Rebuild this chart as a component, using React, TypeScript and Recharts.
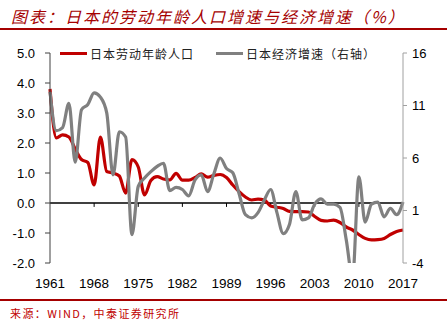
import { Line, LineChart, ReferenceLine, XAxis, YAxis } from "recharts";

const years = [
  "1961", "1962", "1963", "1964", "1965", "1966", "1967", "1968", "1969", "1970",
  "1971", "1972", "1973", "1974", "1975", "1976", "1977", "1978", "1979", "1980",
  "1981", "1982", "1983", "1984", "1985", "1986", "1987", "1988", "1989", "1990",
  "1991", "1992", "1993", "1994", "1995", "1996", "1997", "1998", "1999", "2000",
  "2001", "2002", "2003", "2004", "2005", "2006", "2007", "2008", "2009", "2010",
  "2011", "2012", "2013", "2014", "2015", "2016", "2017",
];

// 日本劳动年龄人口增速（左轴，%）
const laborGrowth = [
  3.8, 2.17, 2.27, 2.2, 1.8, 1.45, 1.35, 0.6, 2.2, 1.05,
  1.0, 0.9, 0.33, 1.45, 1.2, 0.27, 0.75, 0.88, 0.8, 0.77,
  0.99, 0.76, 0.76, 0.85, 0.97, 0.86, 0.92, 0.95, 0.85, 0.6,
  0.38, 0.2, 0.1, 0.13, 0.1, -0.1, -0.14, -0.18, -0.28, -0.29,
  -0.29, -0.3, -0.45, -0.58, -0.6, -0.57, -0.65, -0.8, -0.9, -1.05,
  -1.18, -1.23, -1.22, -1.18, -1.05, -0.95, -0.9,
];

// 日本经济增速（右轴，%）
const gdpGrowth = [
  12.3, 8.6, 8.9, 11.2, 5.6, 10.6, 11.1, 12.2, 11.8, 10.3,
  4.4, 8.5, 8.0, -1.3, 3.3, 4.1, 4.7, 5.2, 5.5, 2.9,
  3.2, 3.0, 2.4, 3.9, 4.4, 2.8, 4.5, 6.0, 5.0, 4.6,
  2.6, 0.6, 0.3, 0.8, 2.0, 3.0, 0.8, -1.2, -0.3, 2.8,
  0.1, 0.3, 1.6, 2.1, 1.6, 1.6, 1.3, -1.8, -5.4, 4.2,
  -0.1, 1.6, 1.8, 0.4, 1.2, 0.6, 1.8,
];

const xTicks = ["1961", "1968", "1975", "1982", "1989", "1996", "2003", "2010", "2017"];
const innerTicks = ["1968", "1975", "1982", "1989", "1996", "2003", "2010"];
const leftTicks = [-2, -1, 0, 1, 2, 3, 4, 5];
const rightTicks = [-4, 1, 6, 11, 16];

const data = years.map((year, i) => ({ year, labor: laborGrowth[i], gdp: gdpGrowth[i] }));

const RED = "#C00000";
const GRAY = "#808080";
const TITLE_RED = "#A50000";
const AXIS_FONT = "'Liberation Sans', Arial, sans-serif";
const CJK_FONT = "'Noto Sans CJK SC', sans-serif";

export default function App() {
  return (
    <div
      style={{
        position: "absolute",
        left: 0,
        top: 0,
        width: 447,
        height: 327,
        background: "#fff",
        overflow: "hidden",
      }}
    >
      <div
        style={{
          position: "absolute",
          left: 11,
          top: 4,
          fontFamily: CJK_FONT,
          fontSize: 16,
          fontStyle: "italic",
          fontWeight: 400,
          letterSpacing: 2,
          color: TITLE_RED,
          whiteSpace: "nowrap",
        }}
      >
        图表：日本的劳动年龄人口增速与经济增速（%）
      </div>
      <div style={{ position: "absolute", left: 0, top: 28, width: 447, height: 1.5, background: TITLE_RED }} />

      <div style={{ position: "absolute", left: 0, top: 0 }}>
        <LineChart width={447} height={327} data={data} margin={{ top: 53, right: 0, left: 0, bottom: 0 }}>
          <XAxis
            dataKey="year"
            ticks={xTicks}
            interval={0}
            height={64}
            axisLine={false}
            tickLine={false}
            tickSize={6}
            tickMargin={9}
            tick={{ fontSize: 13.5, fill: "#000", fontFamily: AXIS_FONT }}
          />
          <YAxis
            yAxisId="left"
            domain={[-2, 5]}
            ticks={leftTicks}
            interval={0}
            width={50}
            tickFormatter={(v: number) => v.toFixed(1)}
            axisLine={{ stroke: "#404040", strokeWidth: 1 }}
            tickLine={{ stroke: "#404040" }}
            tickSize={5}
            tickMargin={10}
            tick={{ fontSize: 13, fill: "#000", fontFamily: AXIS_FONT }}
          />
          <YAxis
            yAxisId="right"
            orientation="right"
            domain={[-4, 16]}
            ticks={rightTicks}
            interval={0}
            allowDataOverflow
            width={44}
            axisLine={{ stroke: "#A0A0A0", strokeWidth: 1 }}
            tickLine={{ stroke: "#A0A0A0" }}
            tickSize={4}
            tickMargin={5}
            tick={{ fontSize: 13, fill: "#000", fontFamily: AXIS_FONT }}
          />
          <ReferenceLine yAxisId="left" y={0} stroke="#000" strokeWidth={1.3} />
          {innerTicks.map((t) => (
            <ReferenceLine
              key={t}
              yAxisId="left"
              segment={[
                { x: t, y: 0 },
                { x: t, y: -0.13 },
              ]}
              stroke="#000"
              strokeWidth={1}
            />
          ))}
          <Line
            yAxisId="left"
            type="monotone"
            dataKey="labor"
            stroke={RED}
            strokeWidth={3.2}
            dot={false}
            isAnimationActive={false}
          />
          <Line
            yAxisId="right"
            type="monotone"
            dataKey="gdp"
            stroke={GRAY}
            strokeWidth={3.2}
            dot={false}
            isAnimationActive={false}
          />
        </LineChart>
      </div>

      <div
        style={{
          position: "absolute",
          left: 58,
          top: 45,
          display: "flex",
          alignItems: "center",
          fontFamily: CJK_FONT,
          fontSize: 12,
          letterSpacing: 1,
          color: "#222",
          whiteSpace: "nowrap",
          background: "#fff",
          paddingLeft: 2,
          paddingRight: 4,
        }}
      >
        <span style={{ display: "inline-block", width: 27, height: 3, background: RED, marginRight: 3 }} />
        <span>日本劳动年龄人口</span>
        <span style={{ display: "inline-block", width: 27, height: 3, background: GRAY, marginLeft: 22, marginRight: 3 }} />
        <span>日本经济增速（右轴）</span>
      </div>

      <div style={{ position: "absolute", left: 0, top: 299, width: 447, height: 1.5, background: TITLE_RED }} />
      <div
        style={{
          position: "absolute",
          left: 10,
          top: 305,
          fontFamily: CJK_FONT,
          fontSize: 11,
          letterSpacing: 1.4,
          color: "#C00000",
          whiteSpace: "nowrap",
        }}
      >
        来源：WIND，中泰证券研究所
      </div>
    </div>
  );
}
